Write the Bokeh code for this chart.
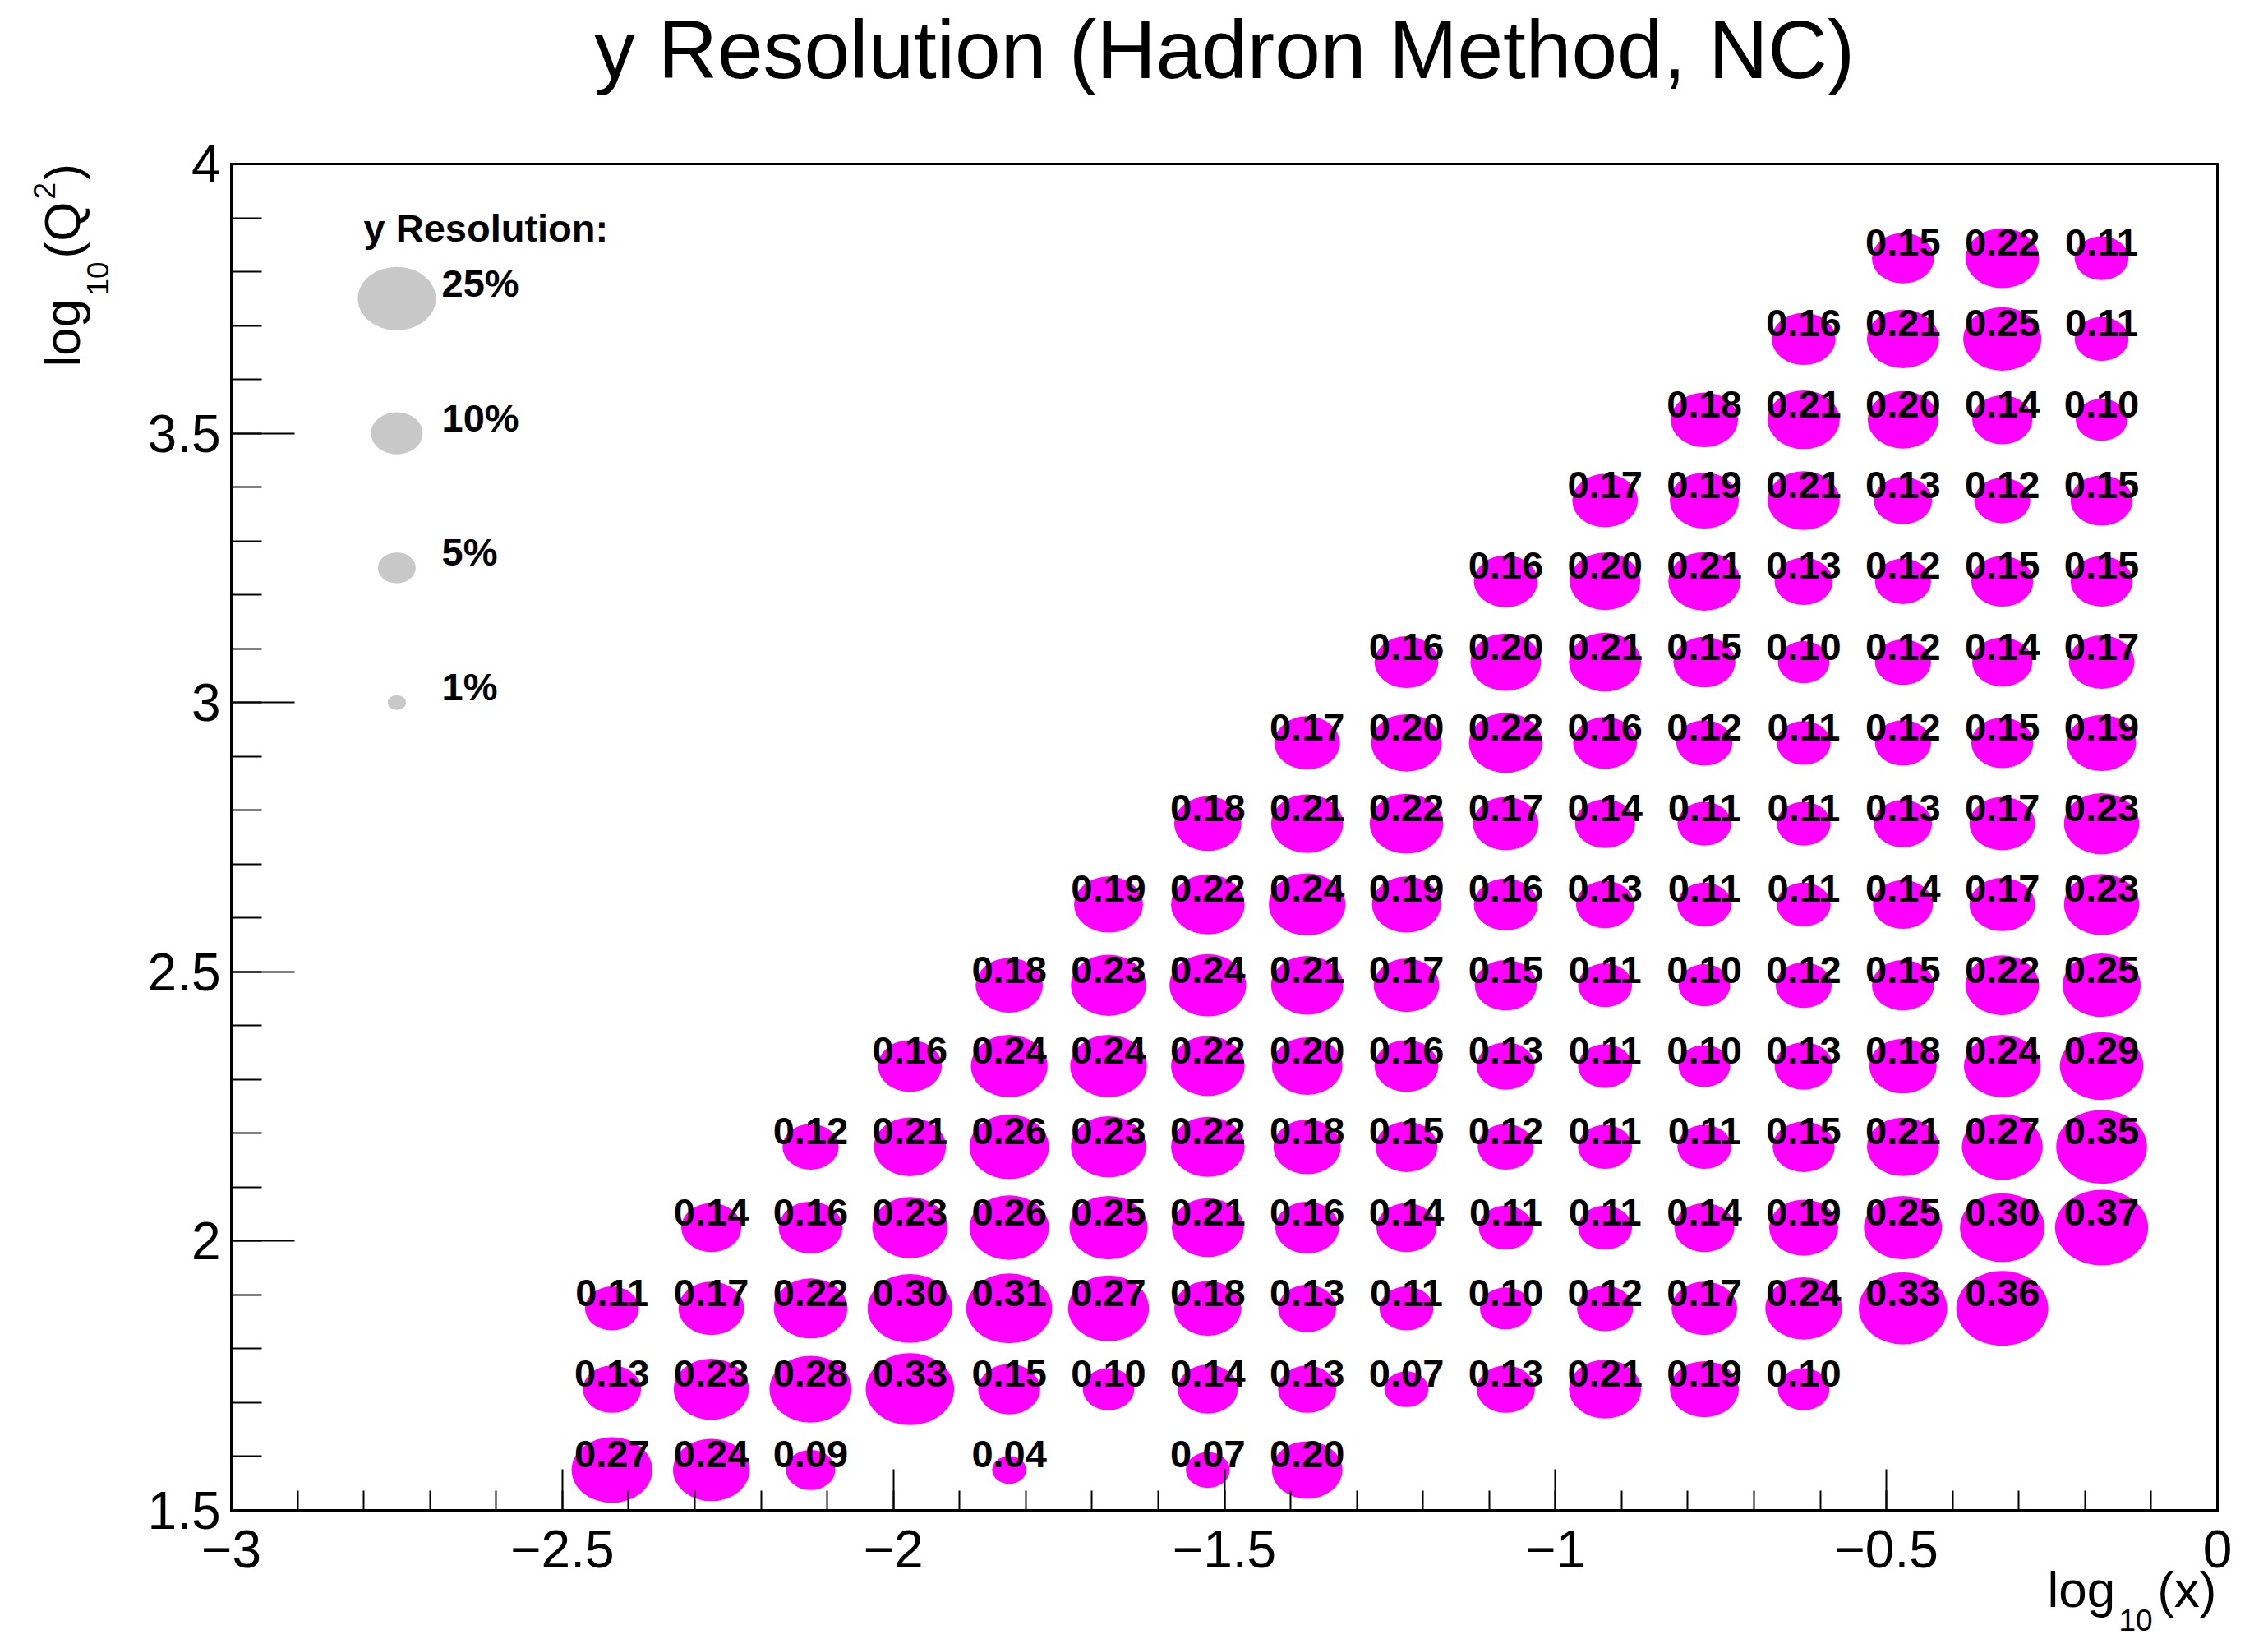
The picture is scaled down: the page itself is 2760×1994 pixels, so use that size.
import math
from bokeh.plotting import figure
from bokeh.models import (Label, FixedTicker, CustomJSTickFormatter, ColumnDataSource,
                          LinearAxis, Range1d)
from bokeh.core.properties import value
from bokeh.embed import file_html
from bokeh.resources import INLINE

# ---------------- data ----------------
log_x_centers = [-2.425, -2.275, -2.125, -1.975, -1.825, -1.675, -1.525, -1.375,
                 -1.225, -1.075, -0.925, -0.775, -0.625, -0.475, -0.325, -0.175]
log_q2_centers = [1.575, 1.725, 1.875, 2.025, 2.175, 2.325, 2.475, 2.625,
                  2.775, 2.925, 3.075, 3.225, 3.375, 3.525, 3.675, 3.825]
N = None
res_q2_1575 = [0.27, 0.24, 0.09, N, 0.04, N, 0.07, 0.20, N, N, N, N, N, N, N, N]
res_q2_1725 = [0.13, 0.23, 0.28, 0.33, 0.15, 0.10, 0.14, 0.13, 0.07, 0.13, 0.21, 0.19, 0.10, N, N, N]
res_q2_1875 = [0.11, 0.17, 0.22, 0.30, 0.31, 0.27, 0.18, 0.13, 0.11, 0.10, 0.12, 0.17, 0.24, 0.33, 0.36, N]
res_q2_2025 = [N, 0.14, 0.16, 0.23, 0.26, 0.25, 0.21, 0.16, 0.14, 0.11, 0.11, 0.14, 0.19, 0.25, 0.30, 0.37]
res_q2_2175 = [N, N, 0.12, 0.21, 0.26, 0.23, 0.22, 0.18, 0.15, 0.12, 0.11, 0.11, 0.15, 0.21, 0.27, 0.35]
res_q2_2325 = [N, N, N, 0.16, 0.24, 0.24, 0.22, 0.20, 0.16, 0.13, 0.11, 0.10, 0.13, 0.18, 0.24, 0.29]
res_q2_2475 = [N, N, N, N, 0.18, 0.23, 0.24, 0.21, 0.17, 0.15, 0.11, 0.10, 0.12, 0.15, 0.22, 0.25]
res_q2_2625 = [N, N, N, N, N, 0.19, 0.22, 0.24, 0.19, 0.16, 0.13, 0.11, 0.11, 0.14, 0.17, 0.23]
res_q2_2775 = [N, N, N, N, N, N, 0.18, 0.21, 0.22, 0.17, 0.14, 0.11, 0.11, 0.13, 0.17, 0.23]
res_q2_2925 = [N, N, N, N, N, N, N, 0.17, 0.20, 0.22, 0.16, 0.12, 0.11, 0.12, 0.15, 0.19]
res_q2_3075 = [N, N, N, N, N, N, N, N, 0.16, 0.20, 0.21, 0.15, 0.10, 0.12, 0.14, 0.17]
res_q2_3225 = [N, N, N, N, N, N, N, N, N, 0.16, 0.20, 0.21, 0.13, 0.12, 0.15, 0.15]
res_q2_3375 = [N, N, N, N, N, N, N, N, N, N, 0.17, 0.19, 0.21, 0.13, 0.12, 0.15]
res_q2_3525 = [N, N, N, N, N, N, N, N, N, N, N, 0.18, 0.21, 0.20, 0.14, 0.10]
res_q2_3675 = [N, N, N, N, N, N, N, N, N, N, N, N, 0.16, 0.21, 0.25, 0.11]
res_q2_3825 = [N, N, N, N, N, N, N, N, N, N, N, N, N, 0.15, 0.22, 0.11]
res_rows = [res_q2_1575, res_q2_1725, res_q2_1875, res_q2_2025, res_q2_2175, res_q2_2325,
            res_q2_2475, res_q2_2625, res_q2_2775, res_q2_2925, res_q2_3075, res_q2_3225,
            res_q2_3375, res_q2_3525, res_q2_3675, res_q2_3825]

legend_values = [0.25, 0.10, 0.05, 0.01]
legend_labels = ["25%", "10%", "5%", "1%"]
legend_q2 = [3.75, 3.50, 3.25, 3.00]
legend_x = -2.75

title_text = "y Resolution (Hadron Method, NC)"
x_major = [-3, -2.5, -2, -1.5, -1, -0.5, 0]
y_major = [1.5, 2, 2.5, 3, 3.5, 4]

# ---------------- geometry ----------------
W, H = 2760, 1994
FL, FR, FT, FB = 281, 62, 199, 157          # ROOT frame position in the canvas
X0, X1, Y0, Y1 = -3.0, 0.0, 1.5, 4.0        # ROOT frame range
PXX = (W - FL - FR) / (X1 - X0)
PXY = (H - FT - FB) / (Y1 - Y0)
XS, XE = X0 - FL / PXX, X1 + FR / PXX       # Bokeh frame = whole canvas
YS, YE = Y0 - FB / PXY, Y1 + FT / PXY

def px2x(px):
    return XS + px / PXX

def py2y(py):
    return YS + (H - py) / PXY

K = 0.22            # marker diameter scale
EXPO = 0.45
TXT_UP = 19.0 / PXY  # text centre sits a bit above the marker centre

FONT = "Liberation Sans"
MAGENTA = "#ff00ff"
GREY = "#c8c8c8"

xs, ys, ds, ts, tys = [], [], [], [], []
for j, row in enumerate(res_rows):
    for i, v in enumerate(row):
        if v is None:
            continue
        xs.append(log_x_centers[i])
        ys.append(log_q2_centers[j])
        ds.append(K * v ** EXPO)
        ts.append(f"{v:.2f}")
        tys.append(log_q2_centers[j] + TXT_UP)
src = ColumnDataSource(dict(x=xs, y=ys, d=ds, t=ts, ty=tys))

lsrc = ColumnDataSource(dict(
    x=[legend_x] * len(legend_values), y=legend_q2,
    d=[K * v ** EXPO for v in legend_values],
    t=legend_labels, tx=[px2x(537)] * len(legend_values),
    ty=[q + TXT_UP for q in legend_q2]))

p = figure(width=W, height=H, x_range=Range1d(XS, XE), y_range=Range1d(YS, YE),
           output_backend="svg", toolbar_location=None, title=None,
           x_axis_location=None, y_axis_location=None, min_border=0)
p.background_fill_color = "white"
p.border_fill_color = "white"
p.outline_line_color = None
p.xgrid.visible = False
p.ygrid.visible = False

# axes placed at the ROOT frame edges
fmt = CustomJSTickFormatter(code="return (tick < 0 ? '\\u2212' : '') + Math.abs(tick).toString();")
x_minor = [round(-3 + 0.1 * i, 1) for i in range(31)]
y_minor = [round(1.5 + 0.1 * i, 1) for i in range(26)]

def style_axis(ax):
    ax.axis_line_width = 3
    ax.axis_line_color = "black"
    ax.axis_line_cap = "square"
    ax.major_tick_line_width = 2
    ax.minor_tick_line_width = 2
    ax.major_tick_line_color = "black"
    ax.minor_tick_line_color = "black"
    ax.major_tick_out = 0
    ax.minor_tick_out = 0
    ax.major_label_text_font = FONT
    ax.major_label_text_font_size = "64px"
    ax.major_label_text_color = "black"

xax = LinearAxis(fixed_location=Y0, bounds=(X0, X1),
                 ticker=FixedTicker(ticks=x_major, minor_ticks=x_minor), formatter=fmt)
style_axis(xax)
xax.major_tick_in = 50
xax.minor_tick_in = 24
xax.major_label_standoff = 24
p.add_layout(xax, "below")

yax = LinearAxis(fixed_location=X0, bounds=(Y0, Y1),
                 ticker=FixedTicker(ticks=y_major, minor_ticks=y_minor), formatter=fmt)
style_axis(yax)
yax.major_tick_in = 77
yax.minor_tick_in = 37
yax.major_label_standoff = 13
p.add_layout(yax, "left")

def frame_edge(loc, bounds, side):
    ax = LinearAxis(fixed_location=loc, bounds=bounds, ticker=FixedTicker(ticks=[]))
    ax.axis_line_width = 3
    ax.axis_line_color = "black"
    ax.axis_line_cap = "square"
    ax.major_tick_line_color = None
    ax.minor_tick_line_color = None
    ax.major_label_text_color = None
    p.add_layout(ax, side)

frame_edge(Y1, (X0, X1), "above")
frame_edge(X1, (Y0, Y1), "right")

# markers and numbers
p.ellipse(x="x", y="y", width="d", height="d", source=src,
          fill_color=MAGENTA, line_color=None)
p.text(x="x", y="ty", text="t", source=src, text_font=value(FONT),
       text_font_style="bold", text_font_size="47px", text_align="center",
       text_baseline="middle", text_color="black")

# size legend
p.ellipse(x="x", y="y", width="d", height="d", source=lsrc,
          fill_color=GREY, line_color=None)
p.text(x="tx", y="ty", text="t", source=lsrc, text_font=value(FONT),
       text_font_style="bold", text_font_size="47px", text_align="left",
       text_baseline="middle", text_color="black")

def lab(px, py, text, size, align="left", angle=0.0, bold=False):
    p.add_layout(Label(x=px2x(px), y=py2y(py), text=text, text_font=FONT,
                       text_font_size=f"{size}px", text_align=align,
                       text_font_style="bold" if bold else "normal",
                       text_baseline="middle", text_color="black", angle=angle))

lab(442, 277, "y Resolution:", 47, bold=True)

# title (centred over the frame)
lab(FL + (W - FL - FR) / 2, 59, title_text, 100, align="center")

# x-axis title: log_10(x), right aligned at the frame end
lab(2491, 1933, "log", 62)
lab(2578, 1970, "10", 37)
lab(2697, 1933, "(x)", 62, align="right")

# y-axis title: log_10(Q^2), rotated, ending at the top of the axis
A = math.pi / 2
lab(75, 446, "log", 62, angle=A)
lab(118, 359, "10", 37, angle=A)
lab(75, 314, "(Q", 62, angle=A)
lab(53, 242, "2", 37, angle=A)
lab(75, 219, ")", 62, angle=A)

open("out.html", "w").write(file_html(p, INLINE))
